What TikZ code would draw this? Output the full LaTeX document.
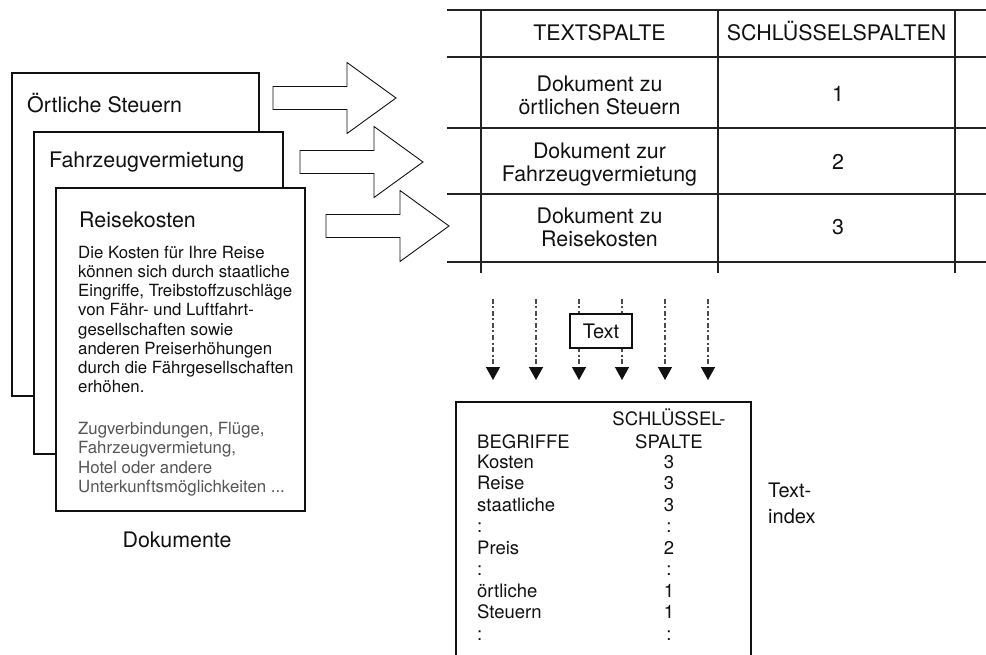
\documentclass[tikz,border=0pt]{standalone}
\usepackage{fontspec}
\setmainfont{TeX Gyre Heros}
\usetikzlibrary{arrows.meta}
\definecolor{ink}{HTML}{111111}
\definecolor{graytxt}{HTML}{555555}
\definecolor{dashgray}{HTML}{4A4A4A}
\definecolor{rulec}{HTML}{222222}
\tikzset{
  docbox/.style={draw=ink,line width=1.4pt,fill=white},
  lbl/.style={inner sep=0pt,text=ink,font=\fontsize{21.4}{24}\selectfont},
  bodyln/.style={inner sep=0pt,anchor=base west,text=ink,font=\fontsize{16.8}{19}\selectfont},
  grayln/.style={bodyln,text=graytxt},
  idx/.style={inner sep=0pt,anchor=base,text=ink,font=\fontsize{18.5}{21}\selectfont},
  idxl/.style={idx,anchor=base west},
  thickrule/.style={draw=rulec,line width=2.2pt},
  thinrule/.style={draw=rulec,line width=1.1pt},
  colrule/.style={draw=rulec,line width=1.3pt},
  blockarr/.pic={\draw[draw=ink,line width=0.9pt,fill=white,line join=miter]
     (0,-11.5) -- (74,-11.5) -- (74,-35.5) -- (123,0) -- (74,35.5) -- (74,11.5) -- (0,11.5) -- cycle;},
  dasharr/.style={draw=dashgray,line width=1.4pt,
     dash pattern=on 5pt off 2.5pt on 2pt off 2.5pt,
     -{Triangle[length=13pt,width=14pt,color=ink]}},
}
\begin{document}
\begin{tikzpicture}[x=1pt,y=-1pt]
\useasboundingbox (0,0) rectangle (986,655);

% ---------- documents ----------
\filldraw[docbox] (12,73) rectangle (259,396);
\node[lbl,anchor=base west] (t1) at (27,113) {Örtliche Steuern};
\filldraw[docbox] (34,132) rectangle (283,454);
\node[lbl,anchor=base west] (t2) at (49,168) {Fahrzeugvermietung};
\filldraw[docbox] (56,188) rectangle (305,511);
\node[lbl,anchor=base west] (t3) at (79,228) {Reisekosten};

\node[bodyln] (b1) at (78,259) {Die Kosten für Ihre Reise};
\node[bodyln] (b2) at (78,278) {können sich durch staatliche};
\node[bodyln] (b3) at (78,297) {Eingriffe, Treibstoffzuschläge};
\node[bodyln] (b4) at (78,316) {von Fähr- und Luftfahrt-};
\node[bodyln] (b5) at (78,335) {gesellschaften sowie};
\node[bodyln] (b6) at (78,354) {anderen Preiserhöhungen};
\node[bodyln] (b7) at (78,373) {durch die Fährgesellschaften};
\node[bodyln] (b8) at (78,392) {erhöhen.};

\node[grayln] (g1) at (78,434) {Zugverbindungen, Flüge,};
\node[grayln] (g2) at (78,453) {Fahrzeugvermietung,};
\node[grayln] (g3) at (78,473) {Hotel oder andere};
\node[grayln] (g4) at (78,492) {Unterkunftsmöglichkeiten ...};

\node[lbl,anchor=base] (dok) at (177,547) {Dokumente};

% ---------- block arrows ----------
\pic (a1) at (273,98) {blockarr};
\pic (a2) at (300,162) {blockarr};
\pic (a3) at (326,226) {blockarr};

% ---------- table ----------
\draw[colrule] (481,10) -- (481,273);
\draw[colrule] (718,10) -- (718,273);
\draw[colrule] (955,10) -- (955,273);
\draw[thickrule] (447,10) -- (987,10);
\draw[thickrule] (447,57) -- (987,57);
\draw[thinrule] (447,128) -- (987,128);
\draw[thinrule] (447,194) -- (987,194);
\draw[thickrule] (447,262) -- (987,262);

\node[lbl,anchor=base] (h1) at (599.5,40.5) {TEXTSPALTE};
\node[lbl,anchor=base] (h2) at (836.5,40.5) {SCHLÜSSELSPALTEN};

\node[lbl,anchor=base] (r1a) at (599.5,92) {Dokument zu};
\node[lbl,anchor=base] (r1b) at (599.5,115) {örtlichen Steuern};
\node[lbl,anchor=base] (k1) at (838,102) {1};
\node[lbl,anchor=base] (r2a) at (599.5,159) {Dokument zur};
\node[lbl,anchor=base] (r2b) at (599.5,182) {Fahrzeugvermietung};
\node[lbl,anchor=base] (k2) at (838,170) {2};
\node[lbl,anchor=base] (r3a) at (599.5,224) {Dokument zu};
\node[lbl,anchor=base] (r3b) at (599.5,247) {Reisekosten};
\node[lbl,anchor=base] (k3) at (838,235) {3};

% ---------- dashed arrows ----------
\foreach \k/\xx in {1/493,2/536,3/579,4/622,5/665,6/708}{
  \coordinate (s\k) at (\xx,299);
  \coordinate (e\k) at (\xx,380);
  \draw[dasharr] (s\k) -- (e\k);
}
\node[draw=ink,fill=white,line width=1.3pt,minimum width=62pt,minimum height=34pt,
      inner sep=0pt,text=ink,font=\fontsize{20}{24}\selectfont] (txt) at (601,331) {Text};

% ---------- text index ----------
\coordinate (ib1) at (456,658);
\coordinate (ib2) at (456,402);
\coordinate (ib3) at (751,402);
\coordinate (ib4) at (751,658);
\draw[draw=ink,line width=1.3pt] (ib1) -- (ib2) -- (ib3) -- (ib4);

\node[idx] (ih1) at (669,425) {SCHLÜSSEL-};
\node[idx] (ih2) at (669,448) {SPALTE};
\node[idxl] (ih3) at (477,448) {BEGRIFFE};

\node[idxl] (w1) at (477,468) {Kosten};      \node[idx] (n1) at (669,468) {3};
\node[idxl] (w2) at (477,489.5) {Reise};     \node[idx] (n2) at (669,489.5) {3};
\node[idxl] (w3) at (477,511) {staatliche};  \node[idx] (n3) at (669,511) {3};
\node[idxl] (w4) at (477,532.5) {:};         \node[idx] (n4) at (669,532.5) {:};
\node[idxl] (w5) at (477,554) {Preis};       \node[idx] (n5) at (669,554) {2};
\node[idxl] (w6) at (477,575.5) {:};         \node[idx] (n6) at (669,575.5) {:};
\node[idxl] (w7) at (477,597) {örtliche};    \node[idx] (n7) at (669,597) {1};
\node[idxl] (w8) at (477,618.5) {Steuern};   \node[idx] (n8) at (669,618.5) {1};
\node[idxl] (w9) at (477,640) {:};           \node[idx] (n9) at (669,640) {:};

\node[lbl,anchor=base west,font=\fontsize{20}{24}\selectfont] (ti1) at (768,497) {Text-};
\node[lbl,anchor=base west,font=\fontsize{20}{24}\selectfont] (ti2) at (768,523) {index};
\end{tikzpicture}
\end{document}
